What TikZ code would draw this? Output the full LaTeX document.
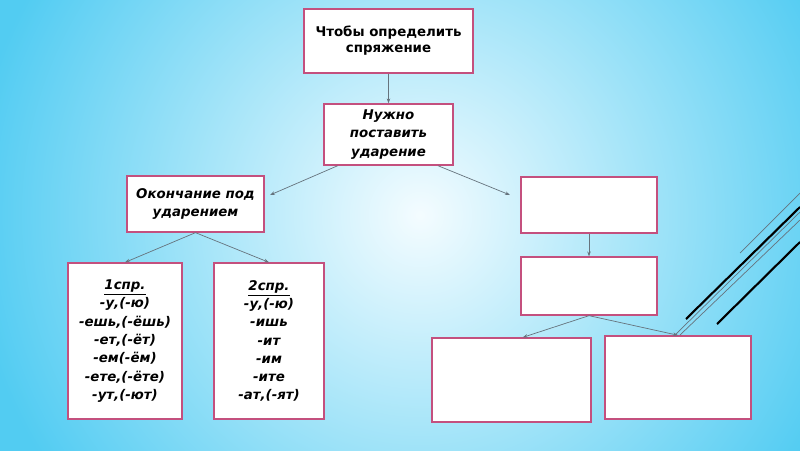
\documentclass[tikz,border=0pt]{standalone}
\usepackage{fontspec}
\setmainfont{DejaVu Sans}
\usetikzlibrary{calc,arrows.meta}
\definecolor{Rose}{HTML}{C4507E}
\definecolor{Slate}{HTML}{66737D}
\definecolor{Sky}{HTML}{52CCF2}
\definecolor{Frost}{HTML}{F4FCFF}

\begin{document}
\begin{tikzpicture}[x=0.025cm,y=-0.025cm,
    box/.style={draw=Rose,line width=0.9pt,fill=white,align=center,inner sep=2pt,
      font=\fontsize{9.5}{13}\selectfont\bfseries},
    tilt/.style={box,font=\fontsize{9.5}{13}\selectfont\bfseries\itshape},
    link/.style={draw=Slate,line width=0.5pt,-{Stealth[length=3.5pt,width=2.5pt]}}]
    % background
    \begin{scope}
      \clip (0,0) rectangle (800,450);
      \shade[inner color=Frost,outer color=Sky] (-30,-235) rectangle (870,665);
    \end{scope}
    \useasboundingbox (0,0) rectangle (800,450);

    \node[box,minimum width=4.23cm,minimum height=1.6cm,font=\fontsize{9.5}{11.5}\selectfont\bfseries] (goal) at (388.5,41) {Чтобы определить\\спряжение};
    \node[tilt,minimum width=3.23cm,minimum height=1.53cm] (stress) at (388.5,134.5) {Нужно\\поставить\\ударение};
    \node[tilt,minimum width=3.43cm,minimum height=1.4cm] (ending) at (195.5,204) {Окончание под\\ударением};
    \node[tilt,minimum width=2.85cm,minimum height=3.9cm] (first) at (125,341)
      {\underline{1спр.}\\-у,(-ю)\\-ешь,(-ёшь)\\-ет,(-ёт)\\-ем(-ём)\\-ете,(-ёте)\\-ут,(-ют)};
    \node[tilt,minimum width=2.75cm,minimum height=3.9cm] (second) at (269,341)
      {\underline{2спр.}\\-у,(-ю)\\-ишь\\-ит\\-им\\-ите\\-ат,(-ят)};
    \foreach \name/\x/\y/\w/\h in {rTop/589/205/3.4/1.4,rMid/589/286/3.4/1.45,
      rLeft/511.5/380/3.98/2.1,rRight/678/377.5/3.65/2.08}{
      \node[box,minimum width=\w cm,minimum height=\h cm] (\name) at (\x,\y) {};
    }

    \coordinate (tipL) at (270,195);
    \coordinate (tipR) at (510,195);
    \draw[link] (goal.south) -- (stress.north);
    \draw[link] ($(stress.south west)!.11!(stress.south east)$) -- (tipL);
    \draw[link] ($(stress.south west)!.88!(stress.south east)$) -- (tipR);
    \draw[link] (ending.south) -- (first.north);
    \draw[link] (ending.south) -- (second.north);
    \draw[link] (rTop.south) -- (rMid.north);
    \draw[link] (rMid.south) -- ($(rLeft.north west)!.57!(rLeft.north east)$);
    \draw[link] (rMid.south) -- (rRight.north);

    % slide decoration
    \draw[Slate,line width=0.5pt] (740,253) -- (800,193);
    \draw[black,line width=1.5pt] (686,319) -- (800,207);
    \draw[Slate,line width=0.5pt] (675,335) -- (800,212);
    \draw[Slate,line width=0.5pt] (680,335) -- (800,220);
    \draw[black,line width=1.5pt] (717,324) -- (800,242);
\end{tikzpicture}
\end{document}
